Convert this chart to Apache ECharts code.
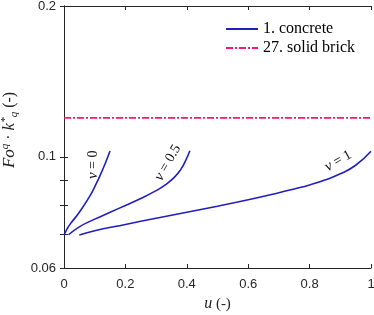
<!DOCTYPE html>
<html><head><meta charset="utf-8">
<script src="https://cdn.jsdelivr.net/npm/echarts@6/dist/echarts.min.js"></script>
<style>html,body{margin:0;padding:0;background:#fff}#c{width:374px;height:315px}</style>
</head><body><div id="c"></div>
<script>
// ---- data ----
const xTickValues = [0, 0.2, 0.4, 0.6, 0.8, 1];
const yLabelValues = [0.06, 0.1, 0.2];
const yTickValues = [0.06, 0.07, 0.08, 0.09, 0.1, 0.2];

const legendNames = ['1. concrete', '27. solid brick'];

const u_v0 = [0.0, 0.01, 0.02, 0.05, 0.085, 0.10, 0.117, 0.134, 0.15];
const f_v0 = [0.0698, 0.0718, 0.0734, 0.0775, 0.0837, 0.0871, 0.0916, 0.0969, 0.1027];

const u_v05 = [0.015, 0.05, 0.10, 0.15, 0.20, 0.25, 0.30, 0.33, 0.36, 0.38, 0.395, 0.41];
const f_v05 = [0.0699, 0.0725, 0.0751, 0.0775, 0.0800, 0.0826, 0.0856, 0.0879, 0.0911, 0.0943, 0.0979, 0.1028];

const u_v1 = [0.05, 0.10, 0.20, 0.30, 0.40, 0.50, 0.60, 0.70, 0.75, 0.80, 0.85, 0.90, 0.95, 1.0];
const f_v1 = [0.0698, 0.0712, 0.0733, 0.0754, 0.0775, 0.0797, 0.0821, 0.0848, 0.0863, 0.0879, 0.0899, 0.0925, 0.0962, 0.1026];

const u_brick = [0, 0.25, 0.5, 0.75, 1];
const f_brick = [0.1196, 0.1196, 0.1196, 0.1196, 0.1196];

const curveLabels = ['0', '0.5', '1'];
const curveLabelU = [0.094, 0.338, 0.893];
const curveLabelF = [0.0964, 0.0973, 0.0981];
const curveLabelRot = [90, 60, 30];

// ---- build ----
const L = Math.log10;
const pairs = (us, fs) => us.map((u, i) => [u, L(fs[i])]);
const blue = '#1f1fbd';
const pink = '#ff1470';
const serif = 'Liberation Serif';
const sans = 'Liberation Sans';
const clear = 'rgba(0,0,0,0)';

function curve(us, fs, k) {
  return {
    type: 'line', name: legendNames[0], xAxisIndex: 0, yAxisIndex: 0,
    data: pairs(us, fs), symbol: 'none', smooth: 0.5,
    lineStyle: {color: blue, width: 1.6}, itemStyle: {color: blue},
    markPoint: {
      symbol: 'circle', symbolSize: 1, itemStyle: {color: clear},
      data: [{coord: [curveLabelU[k], L(curveLabelF[k])], value: curveLabels[k]}],
      label: {
        show: true, position: 'inside', rotate: curveLabelRot[k],
        formatter: '{i|v} = ' + curveLabels[k],
        color: '#111', fontFamily: serif, fontSize: 14,
        rich: {i: {fontStyle: 'italic', fontFamily: serif, fontSize: 15, color: '#111'}}
      }
    }
  };
}

const axisLineStyle = {color: '#262626', width: 1};
const chart = echarts.init(document.getElementById('c'));
chart.setOption({
  animation: false,
  backgroundColor: '#fff',
  grid: {left: 64, right: 3, top: 6, bottom: 47, containLabel: false, outerBoundsMode: 'none'},
  legend: {
    data: legendNames, orient: 'vertical', left: 220, top: 16,
    itemWidth: 32, itemHeight: 12, itemGap: 3,
    itemStyle: {color: clear, borderColor: clear, borderWidth: 0},
    textStyle: {fontFamily: serif, fontSize: 16, color: '#000'}
  },
  xAxis: [{
    type: 'value', min: 0, max: 1, interval: 0.2, position: 'bottom',
    name: '{i|u} (-)', nameLocation: 'middle', nameGap: 28,
    nameTextStyle: {fontFamily: serif, fontSize: 15, color: '#222',
      rich: {i: {fontStyle: 'italic', fontFamily: serif, fontSize: 16, color: '#222'}}},
    axisLine: {show: true, lineStyle: axisLineStyle},
    axisTick: {inside: true, length: 4, lineStyle: axisLineStyle},
    axisLabel: {fontFamily: sans, fontSize: 13, color: '#262626', margin: 10,
      customValues: xTickValues},
    splitLine: {show: false}
  }, {
    type: 'value', min: 0, max: 1, interval: 0.2, position: 'top',
    axisLine: {show: true, lineStyle: axisLineStyle},
    axisTick: {inside: true, length: 4, lineStyle: axisLineStyle},
    axisLabel: {show: false}, splitLine: {show: false}
  }],
  yAxis: [{
    type: 'value', min: L(0.06), max: L(0.2), position: 'left',
    name: '{i|Fo}{sup|q}{n| · }{i|k}{sup|*}{sub|q}{n| (-)}',
    nameLocation: 'middle', nameGap: 40,
    nameTextStyle: {fontFamily: serif, fontSize: 16, color: '#222', padding: [0, 0, 0, 14],
      rich: {
        i: {fontStyle: 'italic', fontFamily: serif, fontSize: 17, color: '#222', lineHeight: 20},
        n: {fontFamily: serif, fontSize: 16, color: '#222', lineHeight: 20},
        sup: {fontStyle: 'italic', fontFamily: serif, fontSize: 11, color: '#222', verticalAlign: 'top', lineHeight: 20, padding: [0, 0, 8, 0]},
        sub: {fontStyle: 'italic', fontFamily: serif, fontSize: 11, color: '#222', verticalAlign: 'bottom', lineHeight: 20, padding: [8, 0, 0, 0]}
      }},
    axisLine: {show: true, lineStyle: axisLineStyle},
    axisTick: {inside: true, length: 4, lineStyle: axisLineStyle, customValues: yTickValues.map(L)},
    axisLabel: {fontFamily: sans, fontSize: 13, color: '#262626', margin: 8,
      customValues: yLabelValues.map(L),
      formatter: v => String(parseFloat(Math.pow(10, v).toPrecision(3)))},
    splitLine: {show: false}
  }, {
    type: 'value', min: L(0.06), max: L(0.2), position: 'right',
    axisLine: {show: true, lineStyle: axisLineStyle},
    axisTick: {inside: true, length: 4, lineStyle: axisLineStyle, customValues: yTickValues.map(L)},
    axisLabel: {show: false}, splitLine: {show: false}
  }],
  series: [
    {
      type: 'line', name: legendNames[1], xAxisIndex: 0, yAxisIndex: 0,
      data: pairs(u_brick, f_brick), symbol: 'none',
      lineStyle: {color: pink, width: 1.6, type: [7, 2, 2, 2]}, itemStyle: {color: pink}
    },
    curve(u_v0, f_v0, 0),
    curve(u_v05, f_v05, 1),
    curve(u_v1, f_v1, 2)
  ]
});
</script>
</body></html>
